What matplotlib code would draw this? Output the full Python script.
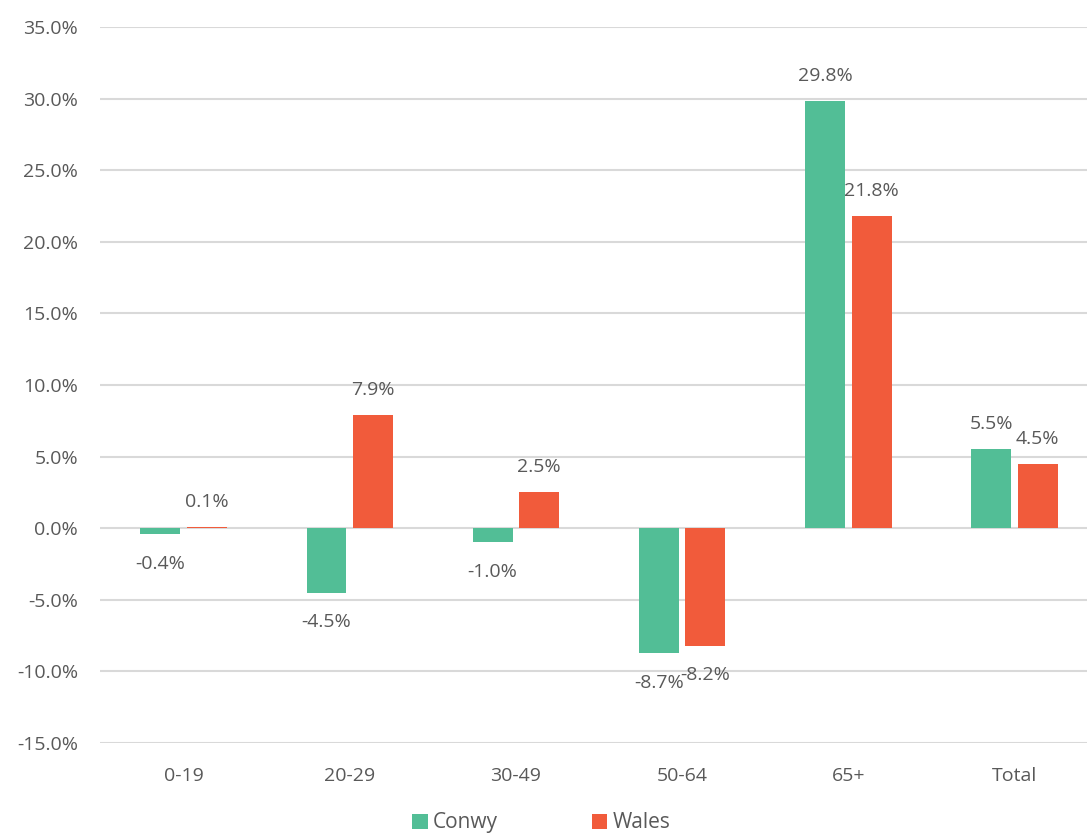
import matplotlib
matplotlib.use("Agg")
import matplotlib.pyplot as plt
import numpy as np

categories = ["0-19", "20-29", "30-49", "50-64", "65+", "Total"]
conwy = [-0.4, -4.5, -1.0, -8.7, 29.8, 5.5]
wales = [0.1, 7.9, 2.5, -8.2, 21.8, 4.5]

green = "#52BE96"
red = "#F15B3B"
grey = "#595959"

plt.rcParams["font.family"] = ["Open Sans", "DejaVu Sans"]

fig = plt.figure(figsize=(10.87, 8.38), dpi=100)
ax = fig.add_axes([0.0924, 0.1134, 0.9174, 0.8544])

x = np.arange(len(categories))
w = 0.24
off = 0.14
b1 = ax.bar(x - off, conwy, w, color=green, label="Conwy", zorder=3)
b2 = ax.bar(x + off, wales, w, color=red, label="Wales", zorder=3)


def label_bars(bars, vals):
    for b, v in zip(bars, vals):
        dy = 18 if v >= 0 else -21.5
        ax.annotate(f"{v:.1f}%", (b.get_x() + b.get_width() / 2, v),
                    xytext=(0, dy), textcoords="offset points",
                    ha="center", va="center", fontsize=14, color=grey,
                    zorder=5)


# wales first so the conwy labels sit on top where they overlap
label_bars(b2, wales)
label_bars(b1, conwy)

ax.set_ylim(-15, 35)
ax.set_xlim(-0.5, len(categories) - 0.5)
ax.set_yticks(np.arange(-15, 36, 5))
ax.set_yticklabels([f"{t:.1f}%" for t in np.arange(-15, 36, 5)])
ax.set_xticks(x)
ax.set_xticklabels(categories)
ax.tick_params(axis="both", length=0, labelsize=14, labelcolor=grey)
ax.tick_params(axis="y", pad=16)
ax.tick_params(axis="x", pad=17)
ax.grid(axis="y", color="#D9D9D9", linewidth=1.5, zorder=0)
ax.set_axisbelow(True)
for s in ax.spines.values():
    s.set_visible(False)

fig.legend(loc="center", bbox_to_anchor=(0.498, 0.018), ncol=2, frameon=False,
           fontsize=15, labelcolor=grey, handlelength=0.75, handleheight=0.75,
           handletextpad=0.25, columnspacing=4.5)

fig.savefig("out.png", dpi=100)
